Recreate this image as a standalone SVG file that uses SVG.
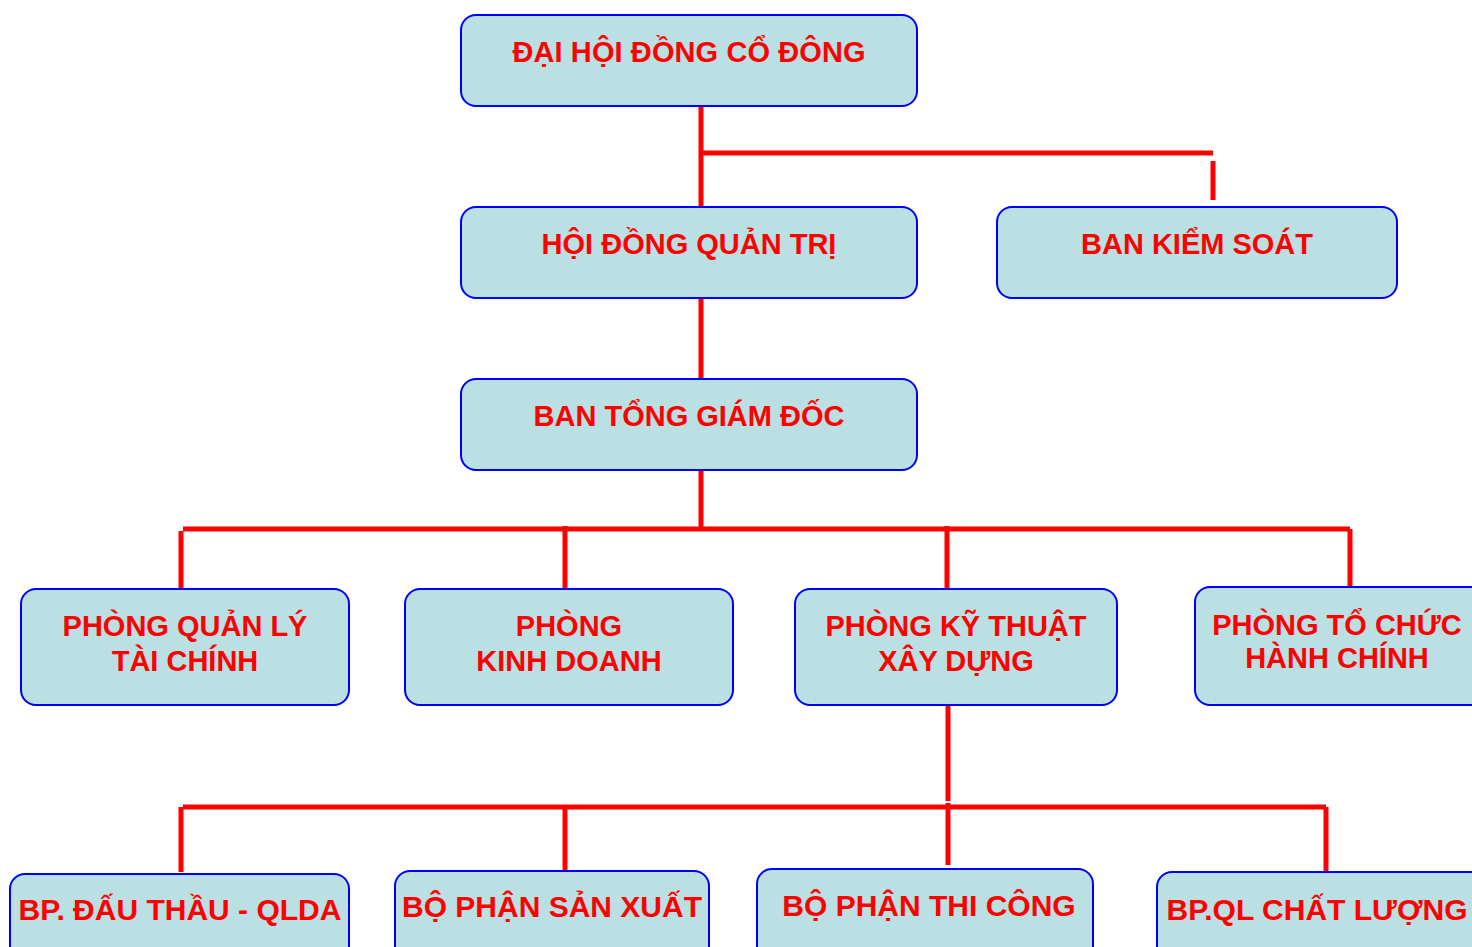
<svg xmlns="http://www.w3.org/2000/svg" width="1472" height="947" viewBox="0 0 1472 947">
<style>
.box{fill:#BBE0E3;stroke:#0000FF;stroke-width:2}
.t{font-family:"Liberation Sans",Arial,sans-serif;font-weight:bold;font-size:29px;fill:#FF0000;text-anchor:middle}
.b{font-size:30px}
.c{stroke:#FF0000;stroke-width:5;fill:none}
</style>
<rect width="1472" height="947" fill="#FFFFFF"/>
<g id="connectors">
<line class="c" x1="701" y1="106" x2="701" y2="207"/>
<line class="c" x1="701" y1="153" x2="1213" y2="153"/>
<line class="c" x1="1213" y1="161" x2="1213" y2="200"/>
<line class="c" x1="701" y1="298" x2="701" y2="379"/>
<line class="c" x1="701" y1="470" x2="701" y2="529"/>
<line class="c" x1="183" y1="529" x2="1350" y2="529"/>
<line class="c" x1="181" y1="531" x2="181" y2="594"/>
<line class="c" x1="565" y1="526" x2="565" y2="589"/>
<line class="c" x1="947" y1="526" x2="947" y2="589"/>
<line class="c" x1="1350" y1="529" x2="1350" y2="592"/>
<line class="c" x1="948" y1="705" x2="948" y2="801"/>
<line class="c" x1="183" y1="807" x2="1326" y2="807"/>
<line class="c" x1="181" y1="807" x2="181" y2="872"/>
<line class="c" x1="565" y1="807" x2="565" y2="871"/>
<line class="c" x1="948" y1="803" x2="948" y2="865"/>
<line class="c" x1="1326" y1="807" x2="1326" y2="872"/>
</g>
<g id="n1"><rect class="box" x="461" y="15" width="456" height="91" rx="15"/><text class="t" x="689" y="62" textLength="353">ĐẠI HỘI ĐỒNG CỔ ĐÔNG</text></g>
<g id="n2"><rect class="box" x="461" y="207" width="456" height="91" rx="15"/><text class="t" x="689" y="254">HỘI ĐỒNG QUẢN TRỊ</text></g>
<g id="n3"><rect class="box" x="997" y="207" width="400" height="91" rx="15"/><text class="t" x="1197" y="254">BAN KIỂM SOÁT</text></g>
<g id="n4"><rect class="box" x="461" y="379" width="456" height="91" rx="15"/><text class="t" x="689" y="426">BAN TỔNG GIÁM ĐỐC</text></g>
<g id="n5"><rect class="box" x="21" y="589" width="328" height="116" rx="15"/><text class="t" x="185" y="636">PHÒNG QUẢN LÝ</text><text class="t" x="185" y="671">TÀI CHÍNH</text></g>
<g id="n6"><rect class="box" x="405" y="589" width="328" height="116" rx="15"/><text class="t" x="569" y="636">PHÒNG</text><text class="t" x="569" y="671">KINH DOANH</text></g>
<g id="n7"><rect class="box" x="795" y="589" width="322" height="116" rx="15"/><text class="t" x="956" y="636">PHÒNG KỸ THUẬT</text><text class="t" x="956" y="671">XÂY DỰNG</text></g>
<g id="n8"><rect class="box" x="1195" y="587" width="292" height="118" rx="15"/><text class="t" x="1337" y="635">PHÒNG TỔ CHỨC</text><text class="t" x="1337" y="668">HÀNH CHÍNH</text></g>
<g id="n9"><rect class="box" x="10" y="874" width="339" height="100" rx="15"/><text class="t b" x="180" y="920">BP. ĐẤU THẦU - QLDA</text></g>
<g id="n10"><rect class="box" x="395" y="871" width="314" height="100" rx="15"/><text class="t b" x="552" y="917">BỘ PHẬN SẢN XUẤT</text></g>
<g id="n11"><rect class="box" x="757" y="869" width="336" height="100" rx="15"/><text class="t b" x="929" y="916">BỘ PHẬN THI CÔNG</text></g>
<g id="n12"><rect class="box" x="1157" y="872" width="330" height="100" rx="15"/><text class="t b" x="1317" y="920">BP.QL CHẤT LƯỢNG</text></g>
</svg>
